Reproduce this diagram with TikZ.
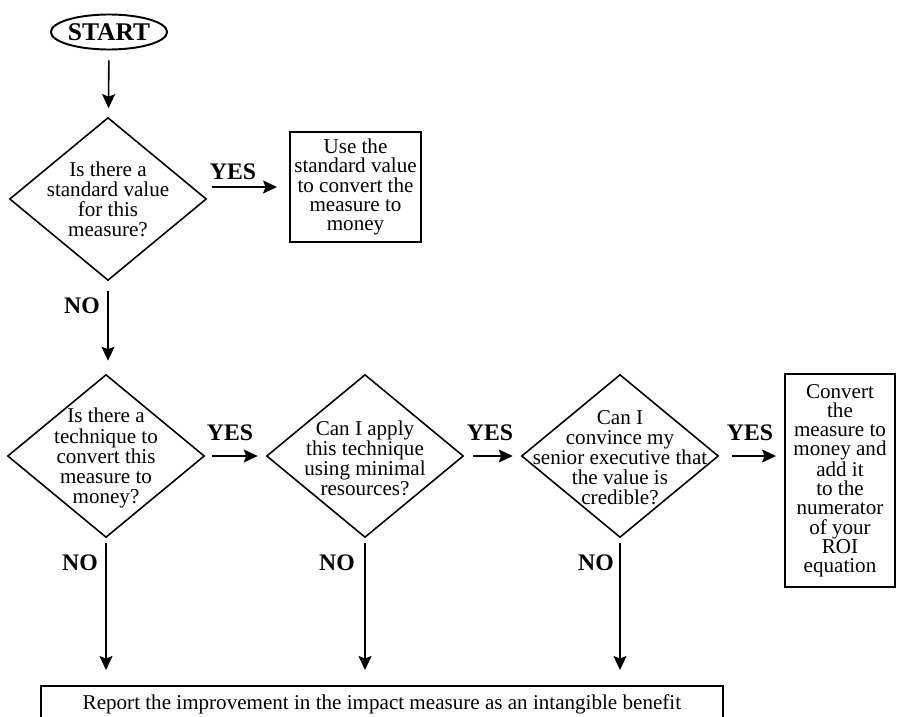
\documentclass[tikz,border=0pt]{standalone}
\usepackage{fontspec}
\setmainfont{Liberation Serif}
\usetikzlibrary{arrows.meta, positioning, shapes.geometric, calc}

\tikzset{
  terminal/.style={ellipse, draw, line width=1.1pt, inner sep=0pt,
    minimum width=2.24cm, minimum height=0.7cm,
    font=\fontsize{14.5}{14.5}\selectfont\bfseries},
  decision/.style={diamond, draw, line width=0.9pt, inner sep=0pt,
    minimum width=3.94cm, minimum height=3.26cm},
  qtext/.style={align=center, inner sep=0pt,
    font=\fontsize{12}{11.4}\selectfont},
  action/.style={draw, line width=1.1pt, align=center, inner sep=0pt,
    font=\fontsize{12}{10.9}\selectfont},
  answer/.style={font=\fontsize{13.5}{13.5}\selectfont\bfseries},
  flow/.style={-{Stealth[length=0.28cm,width=0.26cm,inset=0.05cm]}, line width=0.9pt},
}

\begin{document}
\begin{tikzpicture}[x=0.02cm, y=-0.02cm]
  \useasboundingbox (0,0) rectangle (897,717);

  % top branch
  \node[terminal] (start) at (109,32) {START};
  \node[decision] (q1) at (108,199) {};
  \node[qtext] (q1t) at (108,199) {Is there a\\standard value\\for this\\measure?};
  \node[action, minimum width=2.62cm, minimum height=2.2cm] (usestd) at (355.5,187)
    {Use the\\standard value\\to convert the\\measure to\\money};

  % second row of questions
  \node[decision] (q2) at (106,456) {};
  \node[qtext] (q2t) at (106,458) {Is there a\\technique to\\convert this\\measure to\\money?};
  \node[decision] (q3) at (365,456) {};
  \node[qtext] (q3t) at (365,458) {Can I apply\\this technique\\using minimal\\resources?};
  \node[decision] (q4) at (620,456) {};
  \node[qtext] (q4t) at (620,458) {Can I\\convince my\\senior executive that\\the value is\\credible?};
  \node[action, minimum width=2.2cm, minimum height=4.26cm] (convert) at (840,480.5)
    {Convert\\the\\measure to\\money and\\add it\\to the\\numerator\\of your\\ROI\\equation};

  \node[action, anchor=north west, minimum width=13.64cm, inner ysep=0.1cm,
        text height=0.38cm, text depth=0.5cm] (report) at (40,685)
    {Report the improvement in the impact measure as an intangible benefit};

  % connectors
  \draw[flow, shorten <=0.2cm, shorten >=0.18cm] (start) -- (q1);
  \draw[flow, shorten <=0.1cm, shorten >=0.24cm] (q1.east |- usestd.west) -- (usestd.west);
  \draw[flow, shorten <=0.2cm, shorten >=0.26cm] (q1.south) -- (q1.south |- q2.north);
  \draw[flow, shorten <=0.14cm, shorten >=0.16cm] (q2.east) -- (q3.west);
  \draw[flow, shorten <=0.18cm, shorten >=0.16cm] (q3.east) -- (q4.west);
  \draw[flow, shorten <=0.26cm, shorten >=0.16cm] (q4.east) -- (q4.east -| convert.west);
  \foreach \q in {q2,q3,q4}
    \draw[flow, shorten <=0.1cm, shorten >=0.3cm] (\q.south) -- (\q.south |- report.north);

  % answer labels
  \node[answer] (yes1) at (233,172) {YES};
  \node[answer] (yes2) at (230,433) {YES};
  \node[answer] (yes3) at (490,433) {YES};
  \node[answer] (yes4) at (750,433) {YES};
  \node[answer] (no1) at (82,306) {NO};
  \node[answer] (no2) at (80,563) {NO};
  \node[answer] (no3) at (337,563) {NO};
  \node[answer] (no4) at (596,563) {NO};
\end{tikzpicture}
\end{document}
